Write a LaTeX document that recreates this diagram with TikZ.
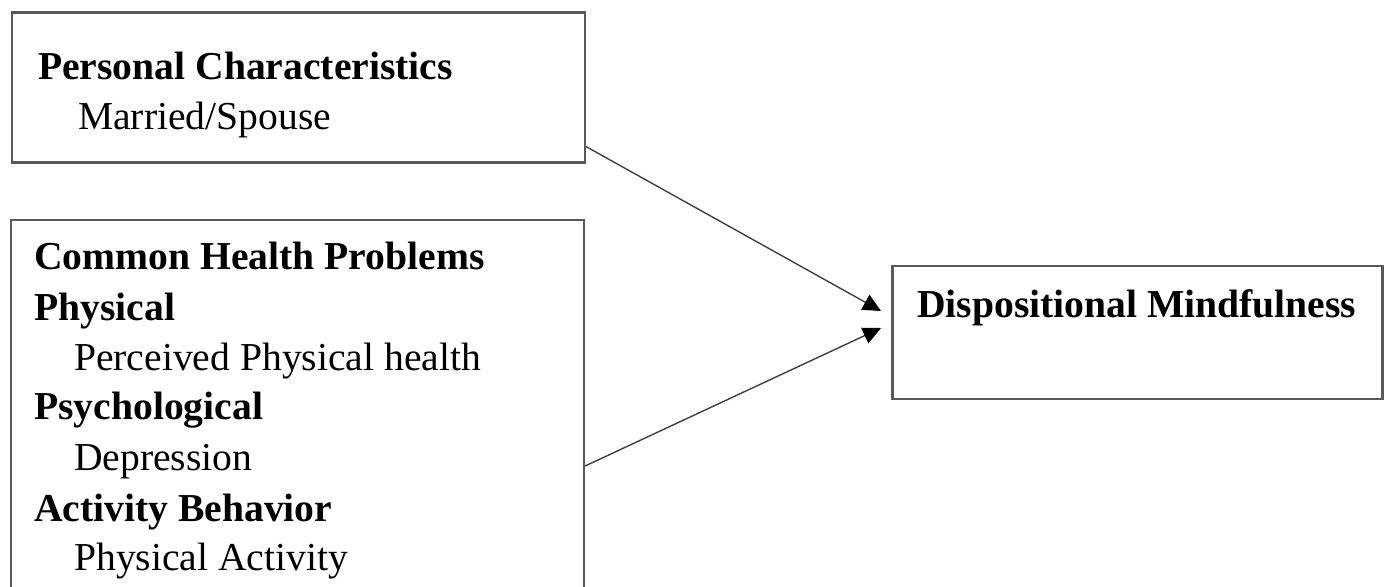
\documentclass[tikz,border=0pt]{standalone}
\usepackage{fontspec}
\setmainfont{Liberation Serif}
\usetikzlibrary{arrows.meta,calc}
\begin{document}
\begin{tikzpicture}[x=1pt,y=-1pt,
  boxstyle/.style={draw=black!65,line width=2.2pt,rectangle,inner sep=0pt},
  headtext/.style={anchor=base west,inner sep=0pt,font=\fontsize{39.6}{47}\selectfont\bfseries},
  subtext/.style={anchor=base west,inner sep=0pt,font=\fontsize{39.6}{47}\selectfont},
  linkline/.style={draw=black!75,line width=1.4pt,-{Triangle[length=18pt,width=17pt,color=black]}}]
\useasboundingbox (0,0) rectangle (1388,586);
% boxes
\node[boxstyle,minimum width=573pt,minimum height=150pt] (box1) at (298.5,87.5) {};
\node[boxstyle,minimum width=573pt,minimum height=400pt] (box2) at (297.5,420) {};
\node[boxstyle,minimum width=490pt,minimum height=133pt] (box3) at (1137.5,332.5) {};
% texts
\node[headtext] (t1) at (38,79) {Personal Characteristics};
\node[subtext] (t2) at (78,129) {Married/Spouse};
\node[headtext] (t3) at (34,269) {Common Health Problems};
\node[headtext] (t4) at (34,320) {Physical};
\node[subtext] (t5) at (74,370) {Perceived Physical health};
\node[headtext] (t6) at (34,419) {Psychological};
\node[subtext] (t7) at (74,470) {Depression};
\node[headtext] (t8) at (34,521) {Activity Behavior};
\node[subtext] (t9) at (74,570) {Physical Activity};
\node[headtext] (t10) at (917,317) {Dispositional Mindfulness};
% connectors
\coordinate (s1) at ($(box1.south east)+(0,-17)$);
\coordinate (s2) at (box2.east |- 0,466);
\coordinate (e1) at (881,311);
\coordinate (e2) at (881,328);
\draw[linkline] (s1) -- (e1);
\draw[linkline] (s2) -- (e2);
\end{tikzpicture}
\end{document}
